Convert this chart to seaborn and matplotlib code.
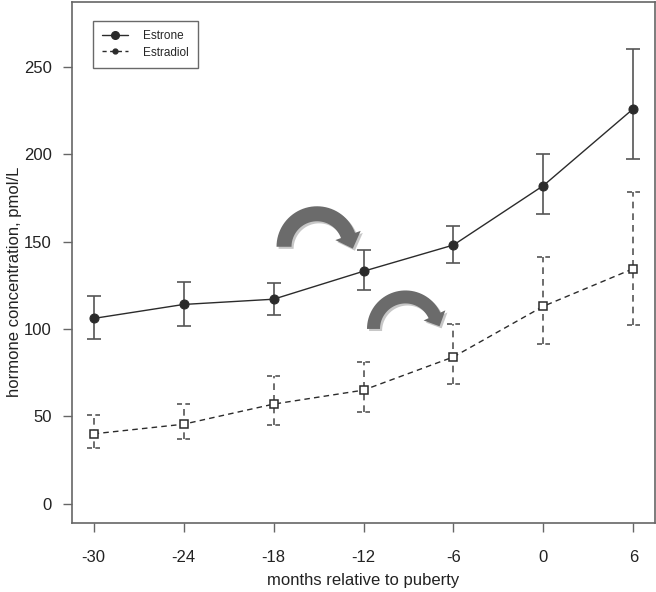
import matplotlib
matplotlib.use("Agg")
import numpy as np
import matplotlib.pyplot as plt
import matplotlib.patheffects as pe
import matplotlib.transforms as mtransforms
from matplotlib.lines import Line2D
from matplotlib.path import Path
from matplotlib.patches import PathPatch
import seaborn as sns
import pandas as pd

# months relative to puberty
months = [-30, -24, -18, -12, -6, 0, 6]

estrone = [106, 114, 117, 133, 148, 182, 226]
estrone_lo = [94, 101.5, 108, 122.5, 137.5, 166, 197]
estrone_hi = [119, 127, 126, 145, 159, 200, 260]

estradiol = [40, 45.5, 57, 65, 84, 113, 134.5]
estradiol_lo = [32, 37, 45, 52.5, 68.5, 91.5, 102]
estradiol_hi = [50.5, 57, 73, 81, 103, 141, 178.5]

xticks = [-30, -24, -18, -12, -6, 0, 6]
yticks = [0, 50, 100, 150, 200, 250]

df_e1 = pd.DataFrame({"month": months, "conc": estrone})
df_e2 = pd.DataFrame({"month": months, "conc": estradiol})


def curved_arrow(ax, center, r, w, head_w, head_len, end_deg, color="#6b6b6b"):
    """thick clockwise arc arrow, sizes in pixels, center in data coords"""
    th_out = np.radians(np.linspace(180, end_deg, 40))
    th_in = th_out[::-1]
    te = np.radians(end_deg)
    tang = np.array([np.sin(te), -np.cos(te)])
    radial = np.array([np.cos(te), np.sin(te)])
    tip = r * radial + head_len * tang
    verts = list(zip((r + w / 2) * np.cos(th_out), (r + w / 2) * np.sin(th_out)))
    verts.append(tuple((r + head_w / 2) * radial))
    verts.append(tuple(tip))
    verts.append(tuple((r - head_w / 2) * radial))
    verts += list(zip((r - w / 2) * np.cos(th_in), (r - w / 2) * np.sin(th_in)))
    verts.append(verts[0])
    codes = [Path.MOVETO] + [Path.LINETO] * (len(verts) - 2) + [Path.CLOSEPOLY]
    cx, cy = ax.transData.transform(center)
    trans = mtransforms.Affine2D().translate(cx, cy)
    patch = PathPatch(Path(verts, codes), facecolor=color, edgecolor="none",
                      transform=trans, zorder=4)
    patch.set_path_effects([pe.SimplePatchShadow(offset=(1.5, -1.5), alpha=0.25), pe.Normal()])
    ax.add_artist(patch)


sns.set_style("ticks")
plt.rcParams["font.family"] = ["Liberation Sans", "DejaVu Sans"]

fig = plt.figure(figsize=(6.56, 5.92), dpi=100)
ax = fig.add_axes([72 / 656, 69 / 592, 583 / 656, 521 / 592])

axis_col = "#666666"
line_col = "#2b2b2b"
err_col = "#555555"

# estrone: solid line, filled dots
sns.lineplot(data=df_e1, x="month", y="conc", ax=ax, color=line_col, lw=1.0,
             marker="o", markersize=6.5, markeredgecolor=line_col, zorder=3)
ax.errorbar(months, estrone,
            yerr=[[m - lo for m, lo in zip(estrone, estrone_lo)],
                  [hi - m for m, hi in zip(estrone, estrone_hi)]],
            fmt="none", ecolor=err_col, elinewidth=1.2, capsize=4.8, capthick=1.2, zorder=2)

# estradiol: dashed line, open squares, dashed error bars
sns.lineplot(data=df_e2, x="month", y="conc", ax=ax, color=line_col, lw=1.0,
             linestyle=(0, (4, 3)), marker="s", markersize=5.5,
             markerfacecolor="white", markeredgecolor=line_col, markeredgewidth=1.1, zorder=3)
ax.vlines(months, estradiol_lo, estradiol_hi, colors=err_col, linewidth=1.2,
          linestyles=(0, (4, 3)), zorder=2)
ax.hlines(estradiol_lo + estradiol_hi, [m - 0.45 for m in months * 2],
          [m + 0.45 for m in months * 2], colors=err_col, linewidth=1.2,
          linestyles=(0, (3, 2)), zorder=2)

ax.set_xlim(-31.44, 7.44)
ax.set_ylim(-11, 287)
ax.set_xticks(xticks)
ax.set_yticks(yticks)
ax.set_xticklabels([str(t) for t in xticks])
ax.tick_params(axis="both", length=6.5, width=1, color=axis_col, labelsize=12,
               labelcolor="#222222")
ax.tick_params(axis="x", pad=13)
ax.tick_params(axis="y", pad=8)
for s in ax.spines.values():
    s.set_visible(True)
    s.set_color(axis_col)
    s.set_linewidth(1.2)

ax.set_xlabel("months relative to puberty", fontsize=12, color="#222222", labelpad=6)
ax.set_ylabel("hormone concentration, pmol/L", fontsize=12, color="#222222")
ax.yaxis.set_label_coords(-0.086, 0.463)

# curved arrows (annotation)
curved_arrow(ax, (-15.1, 147), r=33, w=15, head_w=27, head_len=14, end_deg=20)
curved_arrow(ax, (-9.2, 100), r=32, w=13, head_w=24, head_len=12, end_deg=25)

handles = [
    Line2D([], [], color=line_col, lw=1.0, marker="o", markersize=5.5),
    Line2D([], [], color=line_col, lw=1.0, linestyle=(0, (3, 2.5)), marker="o", markersize=3.5),
]
leg = ax.legend(handles, ["Estrone", "Estradiol"], loc="upper left",
                bbox_to_anchor=(0.036, 0.9635), borderaxespad=0, fontsize=8.5,
                frameon=True, fancybox=False, handlelength=2.2, handletextpad=1.2,
                labelspacing=0.35, borderpad=0.8)
leg.get_frame().set_edgecolor("#444444")
leg.get_frame().set_linewidth(1.0)

fig.savefig("out.png", dpi=100)
